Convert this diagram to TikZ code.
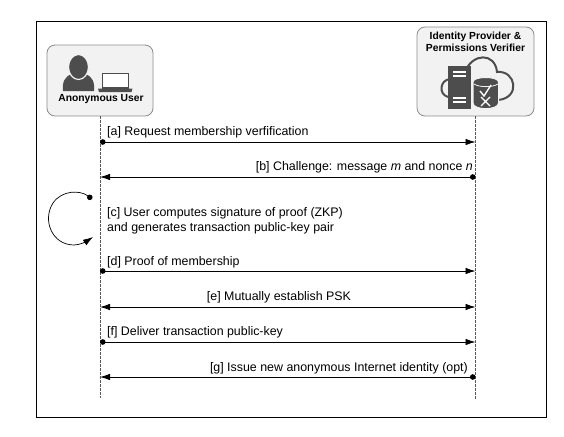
\documentclass[tikz,border=0pt]{standalone}
\usepackage{fontspec}
\setmainfont{Liberation Sans}
\usetikzlibrary{arrows.meta}
\definecolor{ic}{HTML}{4D4D4D}
\definecolor{boxf}{HTML}{F2F2F2}
\definecolor{boxd}{HTML}{8C8C8C}
\tikzset{
  actorbox/.style={draw=boxd,fill=boxf,rounded corners=8pt,line width=0.8pt},
  lifeline/.style={draw=black!65,dash pattern=on 2.5pt off 1.5pt,line width=0.8pt},
  msgs/.style={line width=0.8pt,{Circle[length=5.5pt]}-{Latex[length=10pt,width=6.5pt]}},
  msgb/.style={line width=0.8pt,{Latex[length=10pt,width=6.5pt]}-{Latex[length=10pt,width=6.5pt]}},
  msgr/.style={line width=0.8pt,{Latex[length=10pt,width=6.5pt]}-{Circle[length=5.5pt]}},
  lbl/.style={font=\fontsize{12.4pt}{15pt}\selectfont,inner sep=0pt,align=left},
  title/.style={font=\bfseries\fontsize{10.3pt}{12.5pt}\selectfont,inner sep=0pt,align=center}
}
\begin{document}
\begin{tikzpicture}[x=1pt,y=-1pt]
\useasboundingbox (0,0) rectangle (564,436);
\node[draw=black,line width=0.8pt,minimum width=510pt,minimum height=396pt,inner sep=0pt] (frame) at (291,219) {};
% actor boxes
\node[actorbox,minimum width=106pt,minimum height=71pt,inner sep=0pt] (user) at (100,80.5) {};
\node[actorbox,minimum width=117pt,minimum height=89pt,inner sep=0pt] (idp) at (475.5,71.5) {};
% lifelines
\coordinate (ub) at (100,398);
\coordinate (ib) at (475.5,400);
\draw[lifeline] (user.south) -- (ub);
\draw[lifeline] (idp.south) -- (ib);
% user icon
\path[fill=ic] (63,91) .. controls (62,82) and (65,76) .. (72,74) -- (85,74) .. controls (92,76) and (95,82) .. (94,91) -- cycle;
\draw[boxf,fill=ic,line width=1.2pt] (78.5,67) ellipse (10pt and 12.5pt);
\node[title] (ulabel) at (101,99.5) {Anonymous User};
% laptop
\draw[ic,line width=1.3pt,fill=white] (102.5,73.5) rectangle (128.5,88);
\fill[ic] (98,88.5) -- (132.5,88.5) -- (131.5,92) -- (99,92) -- cycle;
% idp labels
\node[title] (ilabel) at (475.5,42) {Identity Provider \&\\Permissions Verifier};
% cloud
\draw[ic,line width=2pt] (448,97) .. controls (438,94) and (440,80) .. (450,79) .. controls (452,74) and (460,72) .. (465,72) .. controls (472,53) and (495,52) .. (497,72) .. controls (516,70) and (521,98) .. (498,100);
% server
\fill[ic] (448,66) rectangle (471,109);
\fill[white] (453,71) rectangle (466,73);
\fill[white] (453,75) rectangle (466,76.5);
\fill[white] (453,97) rectangle (466,99);
\fill[white] (453,101) rectangle (466,102.5);
% db
\path[draw=boxf,line width=1pt,fill=ic] (473,82) -- (473,103) .. controls (473,110.5) and (498.5,110.5) .. (498.5,103) -- (498.5,82) .. controls (498.5,76) and (473,76) .. (473,82) -- cycle;
\draw[boxf,line width=0.8pt] (474,84) .. controls (479,87.5) and (493,87.5) .. (498,84);
\draw[white,line width=1.4pt] (480,91) -- (484,96) -- (491,85);
\draw[white,line width=1.4pt] (481,97) -- (490,106) (490,97) -- (481,106);
% messages
\coordinate (ua) at (100,142); \coordinate (ia) at (475.5,142);
\coordinate (ubb) at (100,177); \coordinate (ibb) at (475.5,177);
\coordinate (ud) at (100,271); \coordinate (id) at (475.5,271);
\coordinate (ue) at (100,307); \coordinate (ie) at (475.5,307);
\coordinate (uf) at (100,342); \coordinate (if) at (475.5,342);
\coordinate (ug) at (100,377); \coordinate (ig) at (475.5,377);
\draw[msgs] (ua) -- (ia);
\draw[msgr] (ubb) -- (ibb);
\draw[msgs] (ud) -- (id);
\draw[msgb] (ue) -- (ie);
\draw[msgs] (uf) -- (if);
\draw[msgr] (ug) -- (ig);
\node[lbl,anchor=base west] (la) at (107,135) {[a] Request membership verfification};
\node[lbl,anchor=base east] (lb) at (473,170) {[b] Challenge: message \textit{m} and nonce \textit{n}};
\node[lbl,anchor=base west] (lc) at (107,231) {[c] User computes signature of proof (ZKP)\\and generates transaction public-key pair};
\node[lbl,anchor=base west] (ld) at (107,265) {[d] Proof of membership};
\node[lbl,anchor=base] (le) at (279,300) {[e] Mutually establish PSK};
\node[lbl,anchor=base west] (lf) at (107,335) {[f] Deliver transaction public-key};
\node[lbl,anchor=base east] (lg) at (468,371) {[g] Issue new anonymous Internet identity (opt)};
% loop
\coordinate (ls) at (92,199);
\coordinate (le2) at (93,237);
\draw[line width=0.7pt,{Circle[length=5.5pt]}-{Latex[length=10pt,width=6.5pt]}] (ls) .. controls (80,190) and (62,190) .. (53,203) .. controls (42,220) and (52,245) .. (74,245) .. controls (80,245) and (87,241) .. (93,237);
\end{tikzpicture}
\end{document}
